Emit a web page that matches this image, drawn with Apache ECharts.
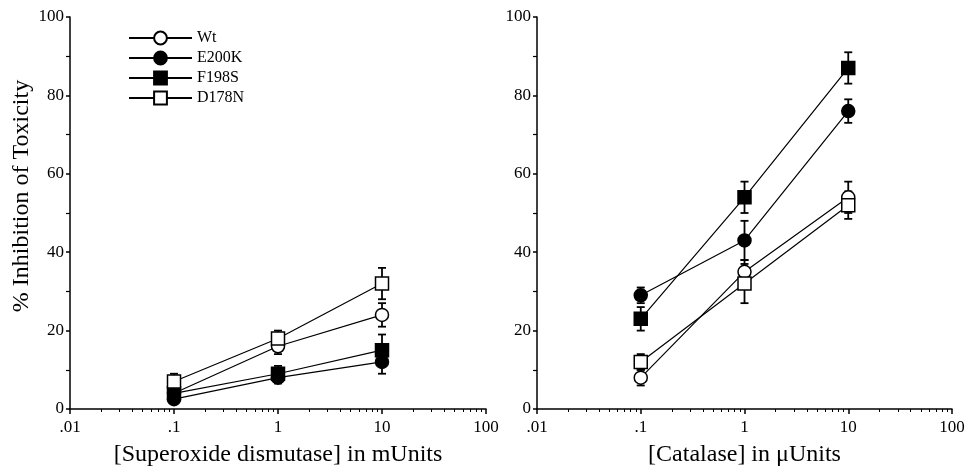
<!DOCTYPE html>
<html>
<head>
<meta charset="utf-8">
<script src="https://cdn.jsdelivr.net/npm/echarts@6/dist/echarts.min.js"></script>
<style>
  html, body { margin: 0; padding: 0; background: #fff; }
  #chart { width: 969px; height: 472px; }
</style>
</head>
<body>
<div id="chart"></div>
<script>
// 剂量 (log x)
const doses = [0.1, 1, 10]
const xTickLabels = { 0.01: '.01', 0.1: '.1', 1: '1', 10: '10', 100: '100' }
const seriesNames = ['Wt', 'E200K', 'F198S', 'D178N']

// Superoxide dismutase (left)
const sodWt = [4, 16, 24]
const sodWtErr = [1, 2, 3]
const sodE200K = [2.5, 8, 12]
const sodE200KErr = [1, 1.5, 3]
const sodF198S = [4, 9, 15]
const sodF198SErr = [1, 2, 4]
const sodD178N = [7, 18, 32]
const sodD178NErr = [2, 2, 4]

// Catalase (right)
const catWt = [8, 35, 54]
const catWtErr = [2, 3, 4]
const catE200K = [29, 43, 76]
const catE200KErr = [2, 5, 3]
const catF198S = [23, 54, 87]
const catF198SErr = [3, 4, 4]
const catD178N = [12, 32, 52]
const catD178NErr = [2, 5, 3.5]

const FONT = 'Liberation Serif'
const symbols = {
  Wt: { symbol: 'circle', fill: '#fff' },
  E200K: { symbol: 'circle', fill: '#000' },
  F198S: { symbol: 'rect', fill: '#000' },
  D178N: { symbol: 'rect', fill: '#fff' }
}

function lineSeries(name, vals, idx) {
  return {
    name: name,
    type: 'line',
    xAxisIndex: idx,
    yAxisIndex: idx,
    data: doses.map((d, i) => [d, vals[i]]),
    symbol: symbols[name].symbol,
    symbolSize: 13,
    lineStyle: { color: '#000', width: 1.2 },
    itemStyle: { color: symbols[name].fill, borderColor: '#000', borderWidth: 1.5 },
    z: 3
  }
}

// 误差线
function errSeries(name, vals, errs, idx) {
  return {
    name: name + ' err',
    type: 'custom',
    xAxisIndex: idx,
    yAxisIndex: idx,
    data: doses.map((d, i) => [d, vals[i] - errs[i], vals[i] + errs[i]]),
    encode: { x: 0, y: [1, 2] },
    z: 2,
    renderItem: function(params, api) {
      const lo = api.coord([api.value(0), api.value(1)])
      const hi = api.coord([api.value(0), api.value(2)])
      const w = 4
      const st = { stroke: '#000', lineWidth: 1.8 }
      return {
        type: 'group',
        children: [
          { type: 'line', shape: { x1: hi[0], y1: hi[1], x2: lo[0], y2: lo[1] }, style: st },
          { type: 'line', shape: { x1: hi[0] - w, y1: hi[1], x2: hi[0] + w, y2: hi[1] }, style: st },
          { type: 'line', shape: { x1: lo[0] - w, y1: lo[1], x2: lo[0] + w, y2: lo[1] }, style: st }
        ]
      }
    }
  }
}

function xAxis(idx, name) {
  return {
    gridIndex: idx,
    type: 'log',
    logBase: 10,
    min: 0.01,
    max: 100,
    name: name,
    nameLocation: 'middle',
    nameGap: 34,
    nameTextStyle: { fontFamily: FONT, fontSize: 24, color: '#000' },
    axisLine: { lineStyle: { color: '#000', width: 1.5 } },
    axisTick: { show: true, length: 5, lineStyle: { color: '#000', width: 1.5 } },
    minorTick: { show: true, splitNumber: 9, length: 3, lineStyle: { color: '#000', width: 1 } },
    axisLabel: {
      fontFamily: FONT, fontSize: 17, color: '#000', margin: 10,
      formatter: v => xTickLabels[v] || ''
    },
    splitLine: { show: false }
  }
}

function yAxis(idx, name) {
  return {
    gridIndex: idx,
    type: 'value',
    min: 0,
    max: 100,
    interval: 20,
    name: name,
    nameLocation: 'middle',
    nameGap: 36,
    nameTextStyle: { fontFamily: FONT, fontSize: 24, color: '#000', padding: [0, 0, 0, 34] },
    axisLine: { show: true, lineStyle: { color: '#000', width: 1.5 } },
    axisTick: { show: true, length: 4, lineStyle: { color: '#000', width: 1.5 } },
    minorTick: { show: true, splitNumber: 2, length: 4, lineStyle: { color: '#000', width: 1.2 } },
    axisLabel: { fontFamily: FONT, fontSize: 17, color: '#000', margin: 6 },
    splitLine: { show: false }
  }
}

const chart = echarts.init(document.getElementById('chart'))
chart.setOption({
  backgroundColor: '#fff',
  animation: false,
  grid: [
    { left: 70, top: 17, width: 416, height: 393 },
    { left: 537, top: 17, width: 415, height: 396 }
  ],
  legend: {
    data: seriesNames,
    orient: 'vertical',
    left: 123,
    top: 25,
    itemWidth: 63,
    itemHeight: 16,
    itemGap: 4,
    textStyle: { fontFamily: FONT, fontSize: 16, color: '#000' },
    selectedMode: false
  },
  xAxis: [
    xAxis(0, '[Superoxide dismutase] in mUnits'),
    xAxis(1, '[Catalase] in \u03bcUnits')
  ],
  yAxis: [
    yAxis(0, '% Inhibition of Toxicity'),
    yAxis(1, '')
  ],
  series: [
    errSeries('Wt', sodWt, sodWtErr, 0),
    errSeries('E200K', sodE200K, sodE200KErr, 0),
    errSeries('F198S', sodF198S, sodF198SErr, 0),
    errSeries('D178N', sodD178N, sodD178NErr, 0),
    errSeries('Wt', catWt, catWtErr, 1),
    errSeries('E200K', catE200K, catE200KErr, 1),
    errSeries('F198S', catF198S, catF198SErr, 1),
    errSeries('D178N', catD178N, catD178NErr, 1),
    lineSeries('Wt', sodWt, 0),
    lineSeries('E200K', sodE200K, 0),
    lineSeries('F198S', sodF198S, 0),
    lineSeries('D178N', sodD178N, 0),
    lineSeries('Wt', catWt, 1),
    lineSeries('E200K', catE200K, 1),
    lineSeries('F198S', catF198S, 1),
    lineSeries('D178N', catD178N, 1)
  ]
})
</script>
</body>
</html>
